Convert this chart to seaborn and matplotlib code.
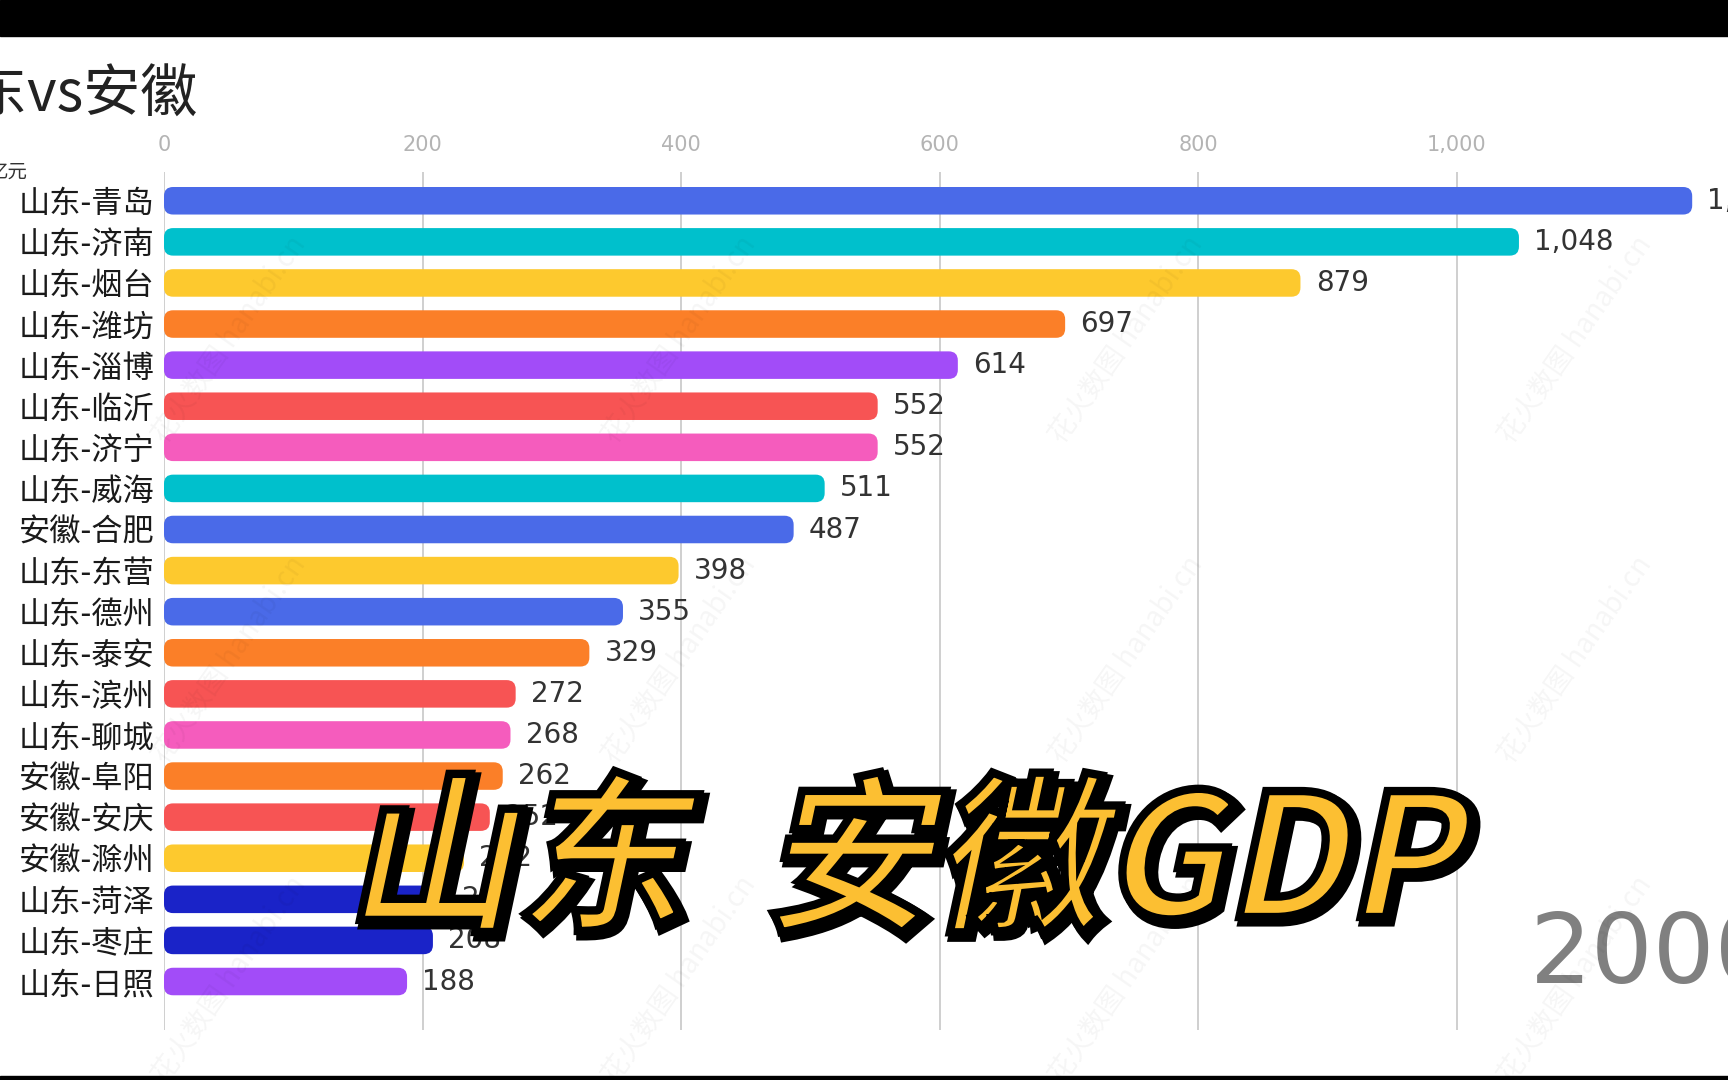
import numpy as np
import pandas as pd
import seaborn as sns
import matplotlib.pyplot as plt
from matplotlib.patches import FancyBboxPatch, PathPatch, Rectangle
from matplotlib.textpath import TextPath
from matplotlib.font_manager import FontProperties
from matplotlib.transforms import Affine2D
from matplotlib.ticker import FuncFormatter

# 数据：2000年 山东 / 安徽 城市GDP（亿元）
cities = ["山东-青岛", "山东-济南", "山东-烟台", "山东-潍坊", "山东-淄博",
          "山东-临沂", "山东-济宁", "山东-威海", "安徽-合肥", "山东-东营",
          "山东-德州", "山东-泰安", "山东-滨州", "山东-聊城", "安徽-阜阳",
          "安徽-安庆", "安徽-滁州", "山东-菏泽", "山东-枣庄", "山东-日照"]
gdp = [1182, 1048, 879, 697, 614, 552, 552, 511, 487, 398,
       355, 329, 272, 268, 262, 252, 232, 219, 208, 188]
bar_colors = ["#4a6ae8", "#00c0cc", "#fdc92e", "#fb7f28", "#a24cf8",
              "#f75454", "#f55cbd", "#00c0cc", "#4a6ae8", "#fdc92e",
              "#4a6ae8", "#fb7f28", "#f75454", "#f55cbd", "#fb7f28",
              "#f75454", "#fdc92e", "#1a23c8", "#1a23c8", "#a24cf8"]
x_ticks = [0, 200, 400, 600, 800, 1000]
year = "2000"

df = pd.DataFrame({"city": cities, "gdp": gdp})

sns.set_theme(style="white")
cjk = ["Noto Sans CJK SC", "DejaVu Sans"]
plt.rcParams["font.family"] = cjk

W, H = 1728, 1080
fig = plt.figure(figsize=(W / 100, H / 100), dpi=100)
ax = fig.add_axes([164 / W, 1 - 1030 / H, 1545 / W, (1030 - 172) / H])

sns.barplot(data=df, y="city", x="gdp", hue="city", orient="h",
            palette=dict(zip(cities, bar_colors)), legend=False,
            saturation=1, width=0.67, ax=ax, zorder=3)

ax.set_xlim(0, 1195)
ax.set_ylim(20.18, -0.70)

# 圆角条形
px_x = ax.get_position().width * W / 1195
px_y = ax.get_position().height * H / (20.18 + 0.70)
aspect = px_x / px_y
for p in list(ax.patches):
    x0, y0, w, h = p.get_x(), p.get_y(), p.get_width(), p.get_height()
    fc = p.get_facecolor()
    p.remove()
    ax.add_patch(FancyBboxPatch((x0, y0), w, h,
                                boxstyle="round,pad=0,rounding_size=7",
                                mutation_aspect=aspect, fc=fc, ec="none",
                                zorder=3))

# 数值标签
for i, v in enumerate(gdp):
    ax.annotate(f"{v:,}", (v, i), xytext=(11, 0), textcoords="offset points",
                va="center", ha="left", fontsize=20, color="#333333",
                family="DejaVu Sans", annotation_clip=False)

ax.xaxis.tick_top()
ax.set_xticks(x_ticks)
ax.xaxis.set_major_formatter(FuncFormatter(lambda v, _: f"{int(v):,}"))
ax.tick_params(axis="x", length=0, pad=12, labelsize=15, labelcolor="#b4b4b4")
for lab in ax.get_xticklabels():
    lab.set_family("DejaVu Sans")
ax.tick_params(axis="y", length=0, pad=7, labelsize=22.5, labelcolor="#1a1a1a")
ax.grid(axis="x", color="#cccccc", lw=1.3, zorder=0)
ax.grid(axis="y", visible=False)
ax.set_xlabel("")
ax.set_ylabel("")
for s in ax.spines.values():
    s.set_visible(False)

# 标题、单位、年份
fig.text(198 / W, 1 - 95 / H, "山东vs安徽", ha="right", va="center",
         fontsize=41, color="#222222")
fig.text(27 / W, 1 - 172 / H, "亿元", ha="right", va="center",
         fontsize=14, color="#333333")
fig.text(1530 / W, 1 - 983 / H, year, ha="left", va="baseline",
         fontsize=70, color="#808080", family="DejaVu Sans")

# 水印
for wx in [230, 680, 1127, 1576]:
    for wy in [340, 660, 980]:
        fig.text(wx / W, 1 - wy / H, "花火数图 hanabi.cn", rotation=55,
                 ha="center", va="center", fontsize=20, color="black",
                 alpha=0.04, zorder=5)

# 大字 "山东  安徽GDP"
fp = FontProperties(family="Noto Sans CJK SC", weight="bold")
tp = TextPath((0, 0), "山东  安徽GDP", size=170, prop=fp)
tp = Affine2D().skew_deg(12, 0).transform_path(tp)
ext = tp.get_extents()
tx = 360 - ext.x0
ty = (H - 933) - ext.y0
fig.add_artist(PathPatch(tp, transform=Affine2D().translate(tx + 4, ty - 4),
                         fc="black", ec="black", lw=8, zorder=20))
fig.add_artist(PathPatch(tp, transform=Affine2D().translate(tx, ty),
                         fc="#fcbf32", ec="black", lw=6, zorder=21))

# 黑边
fig.add_artist(Rectangle((0, 1 - 36 / H), 1, 36 / H, transform=fig.transFigure,
                         color="black", zorder=30))
fig.add_artist(Rectangle((0, 0), 1, 4 / H, transform=fig.transFigure,
                         color="black", zorder=30))

fig.savefig("out.png", dpi=100)
